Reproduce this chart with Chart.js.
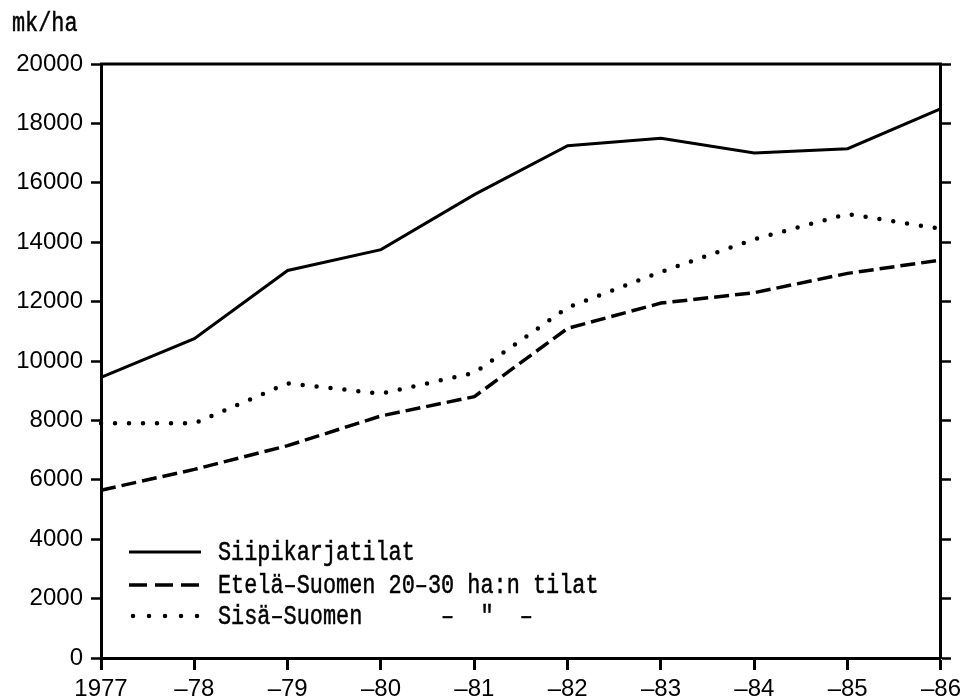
<!DOCTYPE html>
<html>
<head>
<meta charset="utf-8">
<script src="https://cdn.jsdelivr.net/npm/chart.js@4/dist/chart.umd.min.js"></script>
<style>
  html, body { margin: 0; padding: 0; background: #fff; }
  #wrap { width: 966px; height: 699px; }
</style>
</head>
<body>
<div id="wrap"><canvas id="myChart" width="966" height="699"></canvas></div>
<script>
// vuodet (x-akseli)
var years = ['1977', '–78', '–79', '–80', '–81', '–82', '–83', '–84', '–85', '–86'];

// mk/ha
var siipikarjatilat = [9450, 10750, 13050, 13750, 15600, 17250, 17500, 17000, 17150, 18500];
var etelaSuomi      = [5650, 6350, 7150, 8150, 8800, 11100, 11950, 12300, 12950, 13400];
var sisaSuomi       = [7900, 7900, 9250, 8900, 9600, 11800, 13000, 14100, 14950, 14450];

var legendNames = ['Siipikarjatilat', 'Etelä–Suomen 20–30 ha:n tilat', 'Sisä–Suomen      –  "  –'];
var unitLabel = 'mk/ha';

var yTicks = [0, 2000, 4000, 6000, 8000, 10000, 12000, 14000, 16000, 18000, 20000];

var monoFont = '27px "Liberation Mono", "DejaVu Sans Mono", monospace';

function monoText(ctx, txt, x, y, base){
  // kirjoituskoneen fontti: hieman kavennettu
  ctx.save();
  ctx.font = monoFont;
  ctx.fillStyle = '#000';
  ctx.strokeStyle = '#000';
  ctx.lineWidth = 0.5;
  ctx.textBaseline = base || 'middle';
  ctx.textAlign = 'left';
  ctx.translate(x, y);
  ctx.scale(0.81, 1);
  ctx.fillText(txt, 0, 0);
  ctx.strokeText(txt, 0, 0);
  ctx.restore();
}

var extras = {
  id: 'extras',
  afterDraw: function(chart){
    var ctx = chart.ctx;
    var a = chart.chartArea;
    // yläreuna
    ctx.save();
    ctx.strokeStyle = '#000';
    ctx.lineWidth = 3;
    ctx.beginPath();
    ctx.moveTo(a.left - 1, a.top);
    ctx.lineTo(a.right + 1, a.top);
    ctx.stroke();
    ctx.restore();

    monoText(ctx, unitLabel, 12, 31, 'alphabetic');

    // selite
    var rows = [552, 585, 616];
    var ds = chart.data.datasets;
    for (var i = 0; i < ds.length; i++) {
      ctx.save();
      ctx.strokeStyle = '#000';
      ctx.lineWidth = ds[i].borderWidth;
      ctx.lineCap = ds[i].borderCapStyle || 'butt';
      var x0 = 129, x1 = 201;
      if (i == 1) ctx.setLineDash([18, 8]);
      if (i == 2) { ctx.setLineDash([0, 16]); x0 = 133; x1 = 198; }
      ctx.beginPath();
      ctx.moveTo(x0, rows[i]);
      ctx.lineTo(x1, rows[i]);
      ctx.stroke();
      ctx.restore();
      monoText(ctx, legendNames[i], 218, rows[i] + 1);
    }
  }
};

var ctx = document.getElementById('myChart');
var myChart = new Chart(ctx, {
  type: 'line',
  data: {
    labels: years,
    datasets: [
      {
        label: legendNames[0],
        data: siipikarjatilat,
        borderColor: '#000',
        borderWidth: 3,
        pointRadius: 0,
        fill: false,
        tension: 0
      },
      {
        label: legendNames[1],
        data: etelaSuomi,
        borderColor: '#000',
        borderWidth: 3.5,
        borderDash: [15, 6],
        pointRadius: 0,
        fill: false,
        tension: 0
      },
      {
        label: legendNames[2],
        data: sisaSuomi,
        borderColor: '#000',
        borderWidth: 4.5,
        borderDash: [0, 14],
        borderCapStyle: 'round',
        pointRadius: 0,
        fill: false,
        tension: 0
      }
    ]
  },
  options: {
    responsive: false,
    animation: false,
    layout: { padding: { top: 64, left: 0, right: 0, bottom: 0 } },
    plugins: {
      legend: { display: false },
      tooltip: { enabled: false }
    },
    scales: {
      x: {
        offset: false,
        grid: { drawOnChartArea: false, drawTicks: true, tickLength: 12, tickWidth: 3, tickColor: '#000' },
        border: { display: true, color: '#000', width: 3 },
        ticks: {
          color: '#000',
          padding: 5,
          maxRotation: 0,
          autoSkip: false,
          font: { family: '"Liberation Sans", Arial, sans-serif', size: 24 }
        },
        afterFit: function(scale){ scale.height = 41; }
      },
      y: {
        position: 'left',
        min: 0,
        max: 20000,
        afterBuildTicks: function(scale){ scale.ticks = yTicks.map(function(v){ return {value: v}; }); },
        grid: { drawOnChartArea: false, drawTicks: true, tickLength: 10, tickWidth: 2.5, tickColor: '#000' },
        border: { display: true, color: '#000', width: 3 },
        ticks: {
          color: '#000',
          padding: 8,
          callback: function(v){ return String(v); },
          font: { family: '"Liberation Sans", Arial, sans-serif', size: 24 }
        },
        afterFit: function(scale){ scale.width = 101; }
      },
      y2: {
        position: 'right',
        min: 0,
        max: 20000,
        afterBuildTicks: function(scale){ scale.ticks = yTicks.map(function(v){ return {value: v}; }); },
        grid: { drawOnChartArea: false, drawTicks: true, tickLength: 10, tickWidth: 2.5, tickColor: '#000' },
        border: { display: true, color: '#000', width: 3 },
        ticks: { display: false },
        afterFit: function(scale){ scale.width = 20; }
      }
    }
  },
  plugins: [extras]
});
</script>
</body>
</html>
